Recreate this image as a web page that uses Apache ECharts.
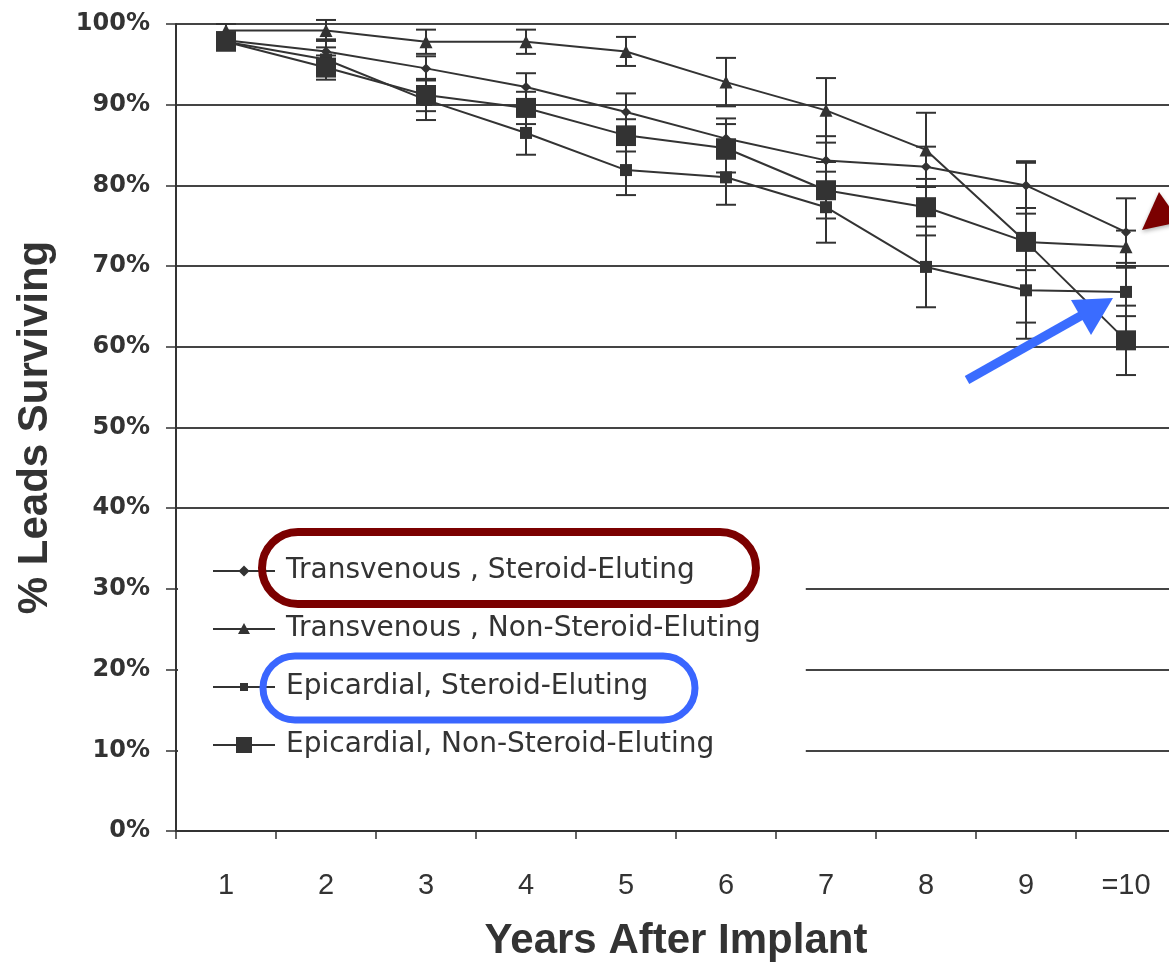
<!DOCTYPE html>
<html>
<head>
<meta charset="utf-8">
<script src="https://cdn.jsdelivr.net/npm/echarts@6/dist/echarts.min.js"></script>
<style>
  html, body { margin: 0; background: #fff; }
  #chart { width: 1169px; height: 962px; }
</style>
</head>
<body>
<div id="chart"></div>
<script>
// years after implant
const years = ['1', '2', '3', '4', '5', '6', '7', '8', '9', '=10']
const yTicks = [0, 10, 20, 30, 40, 50, 60, 70, 80, 90, 100]

// % leads surviving
const tvSteroid = [98.0, 96.6, 94.5, 92.2, 89.1, 85.8, 83.1, 82.3, 80.0, 74.2]
const tvNonSteroid = [99.2, 99.2, 97.8, 97.8, 96.6, 92.8, 89.3, 84.4, 73.0, 72.4]
const epiSteroid = [97.8, 95.6, 90.6, 86.5, 81.9, 81.0, 77.3, 69.9, 67.0, 66.8]
const epiNonSteroid = [97.8, 94.6, 91.2, 89.6, 86.2, 84.6, 79.4, 77.3, 73.0, 60.8]

// half widths of the error bars
const tvSteroidErr = [1.0, 1.5, 1.5, 1.7, 2.3, 2.5, 3.0, 2.5, 2.8, 4.2]
const tvNonSteroidErr = [0.8, 1.3, 1.5, 1.5, 1.8, 3.0, 4.0, 4.6, 10.0, 2.0]
const epiSteroidErr = [1.0, 1.5, 2.5, 2.7, 3.1, 3.4, 4.4, 5.0, 6.0, 3.0]
const epiNonSteroidErr = [1.0, 1.5, 2.0, 2.0, 2.0, 3.0, 3.5, 3.5, 3.5, 4.3]

const names = [
  'Transvenous , Steroid-Eluting',
  'Transvenous , Non-Steroid-Eluting',
  'Epicardial, Steroid-Eluting',
  'Epicardial, Non-Steroid-Eluting'
]

const ink = '#333'

// legend icons: line + marker in a 62x20 box (corner moveTo's fix the box)
const box = 'M0 0 M62 20 '
const stroke = 'M0 9 H62 V11 H0 Z '
const legendIcons = [
  'path://' + box + stroke + 'M25.5 10 L31 4.5 L36.5 10 L31 15.5 Z',
  'path://' + box + stroke + 'M25 15 L31 4 L37 15 Z',
  'path://' + box + stroke + 'M27 6 H35 V14 H27 Z',
  'path://' + box + stroke + 'M23 2 H39 V18 H23 Z'
]

function lineSeries(name, data, symbol, size) {
  return {
    name: name,
    type: 'line',
    data: data,
    symbol: symbol,
    symbolSize: size,
    z: 3,
    lineStyle: { color: ink, width: 2 },
    itemStyle: { color: ink },
    emphasis: { disabled: true },
    animation: false
  }
}

function errorBars(name, values, errs) {
  return {
    type: 'custom',
    name: name + ' err',
    data: values.map((v, i) => [i, v - errs[i], v + errs[i]]),
    encode: { x: 0, y: [1, 2] },
    z: 2,
    silent: true,
    animation: false,
    renderItem(params, api) {
      const lo = api.coord([api.value(0), api.value(1)])
      const hi = api.coord([api.value(0), api.value(2)])
      const x = lo[0]
      const w = 10
      const st = { stroke: ink, lineWidth: 2 }
      return {
        type: 'group',
        children: [
          { type: 'line', shape: { x1: x, y1: lo[1], x2: x, y2: hi[1] }, style: st },
          { type: 'line', shape: { x1: x - w, y1: lo[1], x2: x + w, y2: lo[1] }, style: st },
          { type: 'line', shape: { x1: x - w, y1: hi[1], x2: x + w, y2: hi[1] }, style: st }
        ]
      }
    }
  }
}

const chart = echarts.init(document.getElementById('chart'))

chart.setOption({
  backgroundColor: '#fff',
  animation: false,
  grid: { left: 176, top: 24, width: 1000, height: 807, outerBoundsMode: 'none' },
  legend: {
    data: names.map((n, i) => ({ name: n, icon: legendIcons[i] })),
    orient: 'vertical',
    left: 178,
    top: 527,
    padding: [30, 45, 30, 35],
    backgroundColor: '#fff',
    itemWidth: 62,
    itemHeight: 20,
    itemGap: 30,
    selectedMode: false,
    textStyle: {
      fontFamily: 'DejaVu Sans, sans-serif',
      fontSize: 28,
      color: '#333',
      padding: [0, 0, 0, 6]
    }
  },
  xAxis: {
    type: 'category',
    data: years,
    boundaryGap: true,
    name: 'Years After Implant',
    nameLocation: 'middle',
    nameGap: 89,
    nameTextStyle: {
      fontFamily: 'Liberation Sans, Arial, sans-serif',
      fontWeight: 'bold',
      fontSize: 42,
      color: '#333'
    },
    axisLine: { lineStyle: { color: ink, width: 2 } },
    axisTick: { show: true, length: 8, lineStyle: { color: ink, width: 1.5 } },
    axisLabel: {
      margin: 40,
      fontFamily: 'Liberation Sans Narrow, Liberation Sans, Arial, sans-serif',
      fontSize: 29,
      color: '#333'
    },
    splitLine: { show: false }
  },
  yAxis: {
    type: 'value',
    min: yTicks[0],
    max: yTicks[yTicks.length - 1],
    interval: 10,
    name: '% Leads Surviving',
    nameLocation: 'middle',
    nameRotate: 90,
    nameGap: 120,
    nameTextStyle: {
      fontFamily: 'Liberation Sans, Arial, sans-serif',
      fontWeight: 'bold',
      fontSize: 42,
      color: '#333'
    },
    axisLine: { show: true, lineStyle: { color: ink, width: 2 } },
    axisTick: { show: true, length: 10, lineStyle: { color: ink, width: 1.5 } },
    axisLabel: {
      margin: 26,
      formatter: '{value}%',
      fontFamily: 'DejaVu Sans, sans-serif',
      fontWeight: 'bold',
      fontSize: 24,
      color: '#333'
    },
    splitLine: { show: true, lineStyle: { color: '#444', width: 2 } }
  },
  series: [
    errorBars(names[0], tvSteroid, tvSteroidErr),
    errorBars(names[1], tvNonSteroid, tvNonSteroidErr),
    errorBars(names[2], epiSteroid, epiSteroidErr),
    errorBars(names[3], epiNonSteroid, epiNonSteroidErr),
    lineSeries(names[0], tvSteroid, 'diamond', 10),
    lineSeries(names[1], tvNonSteroid, 'triangle', 13),
    lineSeries(names[2], epiSteroid, 'rect', 12),
    lineSeries(names[3], epiNonSteroid, 'rect', 20)
  ],
  // hand drawn highlight marks on top of the chart
  graphic: [
    {
      type: 'rect', z: 100,
      shape: { x: 262, y: 532, width: 494, height: 72, r: 36 },
      style: { fill: 'none', stroke: '#7b0000', lineWidth: 8 }
    },
    {
      type: 'rect', z: 100,
      shape: { x: 263, y: 656, width: 432, height: 64, r: 32 },
      style: { fill: 'none', stroke: '#3a66ff', lineWidth: 7 }
    },
    {
      type: 'line', z: 100,
      shape: { x1: 967, y1: 380, x2: 1084, y2: 314 },
      style: { stroke: '#3a6cff', lineWidth: 9 }
    },
    {
      type: 'polygon', z: 100,
      shape: { points: [[1113, 298], [1071, 300], [1091, 335]] },
      style: { fill: '#3a6cff' }
    },
    {
      type: 'polygon', z: 100,
      shape: { points: [[1142, 230], [1159, 192], [1180, 222]] },
      style: { fill: '#7b0000', shadowColor: 'rgba(0,0,0,0.3)', shadowBlur: 4, shadowOffsetY: 2 }
    }
  ]
})
</script>
</body>
</html>
